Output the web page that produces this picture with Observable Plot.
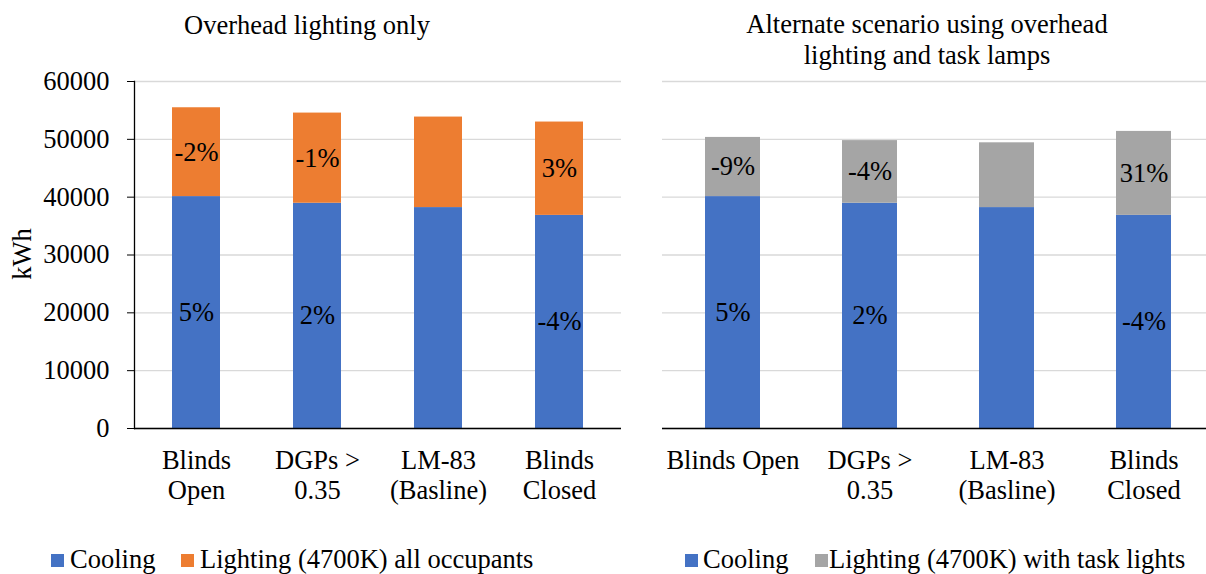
<!DOCTYPE html>
<html><head><meta charset="utf-8">
<script src="https://cdn.jsdelivr.net/npm/d3@7"></script>
<script src="https://cdn.jsdelivr.net/npm/@observablehq/plot@0.6"></script>
<style>
body{margin:0;background:#fff;}
#wrap{position:relative;width:1206px;height:574px;overflow:hidden;font-family:"Liberation Serif","Times New Roman",serif;font-size:26.5px;color:#000;background:#fff;}
.abs{position:absolute;white-space:nowrap;line-height:30px;}
.ctr{transform:translateX(-50%);text-align:center;}
.sw{position:absolute;width:13px;height:13px;}
.plot{position:absolute;top:0;}
</style></head><body><div id="wrap"></div>
<script>
// ---- data ----
const categories = ["Blinds Open", "DGPs > 0.35", "LM-83 (Basline)", "Blinds Closed"];
const leftTickLabels = ["Blinds\nOpen", "DGPs >\n0.35", "LM-83\n(Basline)", "Blinds\nClosed"];
const rightTickLabels = ["Blinds Open", "DGPs >\n0.35", "LM-83\n(Basline)", "Blinds\nClosed"];
const cooling = [40100, 38950, 38200, 36850];
const lightingAll = [15360, 15590, 15650, 16140];
const lightingTask = [10230, 10830, 11200, 14520];
const coolingPct = ["5%", "2%", "", "-4%"];
const lightingAllPct = ["-2%", "-1%", "", "3%"];
const lightingTaskPct = ["-9%", "-4%", "", "31%"];
const yTicks = [0, 10000, 20000, 30000, 40000, 50000, 60000];
const seriesNames = ["Cooling", "Lighting (4700K) all occupants", "Lighting (4700K) with task lights"];
const colors = {"Cooling": "#4472c4", "Lighting (4700K) all occupants": "#ed7d31", "Lighting (4700K) with task lights": "#a5a5a5"};
const leftTitle = "Overhead lighting only";
const rightTitle = ["Alternate scenario using overhead", "lighting and task lamps"];

function rows(lighting, lightingName, lightingPct) {
  const r = [];
  categories.forEach((c, i) => r.push({cat: c, series: "Cooling", value: cooling[i], label: coolingPct[i]}));
  categories.forEach((c, i) => r.push({cat: c, series: lightingName, value: lighting[i], label: lightingPct[i]}));
  return r;
}

const wrap = document.getElementById("wrap");
const font = {fontFamily: "'Liberation Serif', 'Times New Roman', serif", fontSize: "26px", background: "transparent", overflow: "visible"};

function panel(data, tickLabels, opts) {
  const marks = [
    Plot.ruleY(yTicks, {y: d => d, stroke: "#d9d9d9", strokeWidth: 1.3}),
    Plot.barY(data, Plot.stackY({x: "cat", y: "value", fill: d => colors[d.series]})),
    Plot.text(data, Plot.stackY({x: "cat", y: "value", text: "label", fill: "black", fontSize: 26.5})),
    Plot.ruleY([0], {stroke: "black", strokeWidth: 1.5}),
    Plot.axisX({tickSize: 0, tickPadding: 19, lineHeight: 1.13, fontSize: 26.5,
      tickFormat: d => tickLabels[categories.indexOf(d)], label: null})
  ];
  if (opts.yAxis) {
    marks.push(Plot.axisY({ticks: yTicks, tickSize: 7, tickPadding: 18, fontSize: 26.5, tickFormat: d3.format("d"), label: null}));
    marks.push(Plot.frame({anchor: "left", stroke: "black", strokeWidth: 1.3}));
  } else {
    marks.push(Plot.axisY({ticks: [], label: null}));
  }
  return Plot.plot({
    width: opts.width, height: 520,
    marginLeft: opts.marginLeft, marginRight: 0, marginTop: 81, marginBottom: 92,
    style: font,
    x: {domain: categories, paddingInner: 0.6, paddingOuter: 0.3, range: opts.range, label: null},
    y: {domain: [0, 60000], label: null},
    marks
  });
}

const left = panel(rows(lightingAll, seriesNames[1], lightingAllPct), leftTickLabels,
  {width: 621, marginLeft: 134, yAxis: true});
left.classList.add("plot"); left.style.left = "0px";
wrap.appendChild(left);

const right = panel(rows(lightingTask, seriesNames[2], lightingTaskPct), rightTickLabels,
  {width: 596, marginLeft: 52, range: [52, 603], yAxis: false});
right.classList.add("plot"); right.style.left = "610px";
wrap.appendChild(right);

function addText(txt, x, top, cls) {
  const d = document.createElement("div");
  d.className = "abs " + (cls || "");
  d.style.left = x + "px"; d.style.top = top + "px";
  d.textContent = txt;
  wrap.appendChild(d);
  return d;
}
addText(leftTitle, 307, 10, "ctr");
const rt = addText("", 927, 9, "ctr");
rt.style.lineHeight = "31px";
rt.innerHTML = rightTitle.join("<br>");

const k = addText("kWh", 22, 254, "");
k.style.transform = "translate(-50%,-50%) rotate(-90deg)";

function legendItem(name, sx, tx) {
  const s = document.createElement("div");
  s.className = "sw"; s.style.left = sx + "px"; s.style.top = "554px"; s.style.background = colors[name];
  wrap.appendChild(s);
  addText(name, tx, 544, "");
}
legendItem(seriesNames[0], 51, 70);
legendItem(seriesNames[1], 181, 200);
legendItem(seriesNames[0], 685, 703);
legendItem(seriesNames[2], 815, 829);
</script></body></html>
